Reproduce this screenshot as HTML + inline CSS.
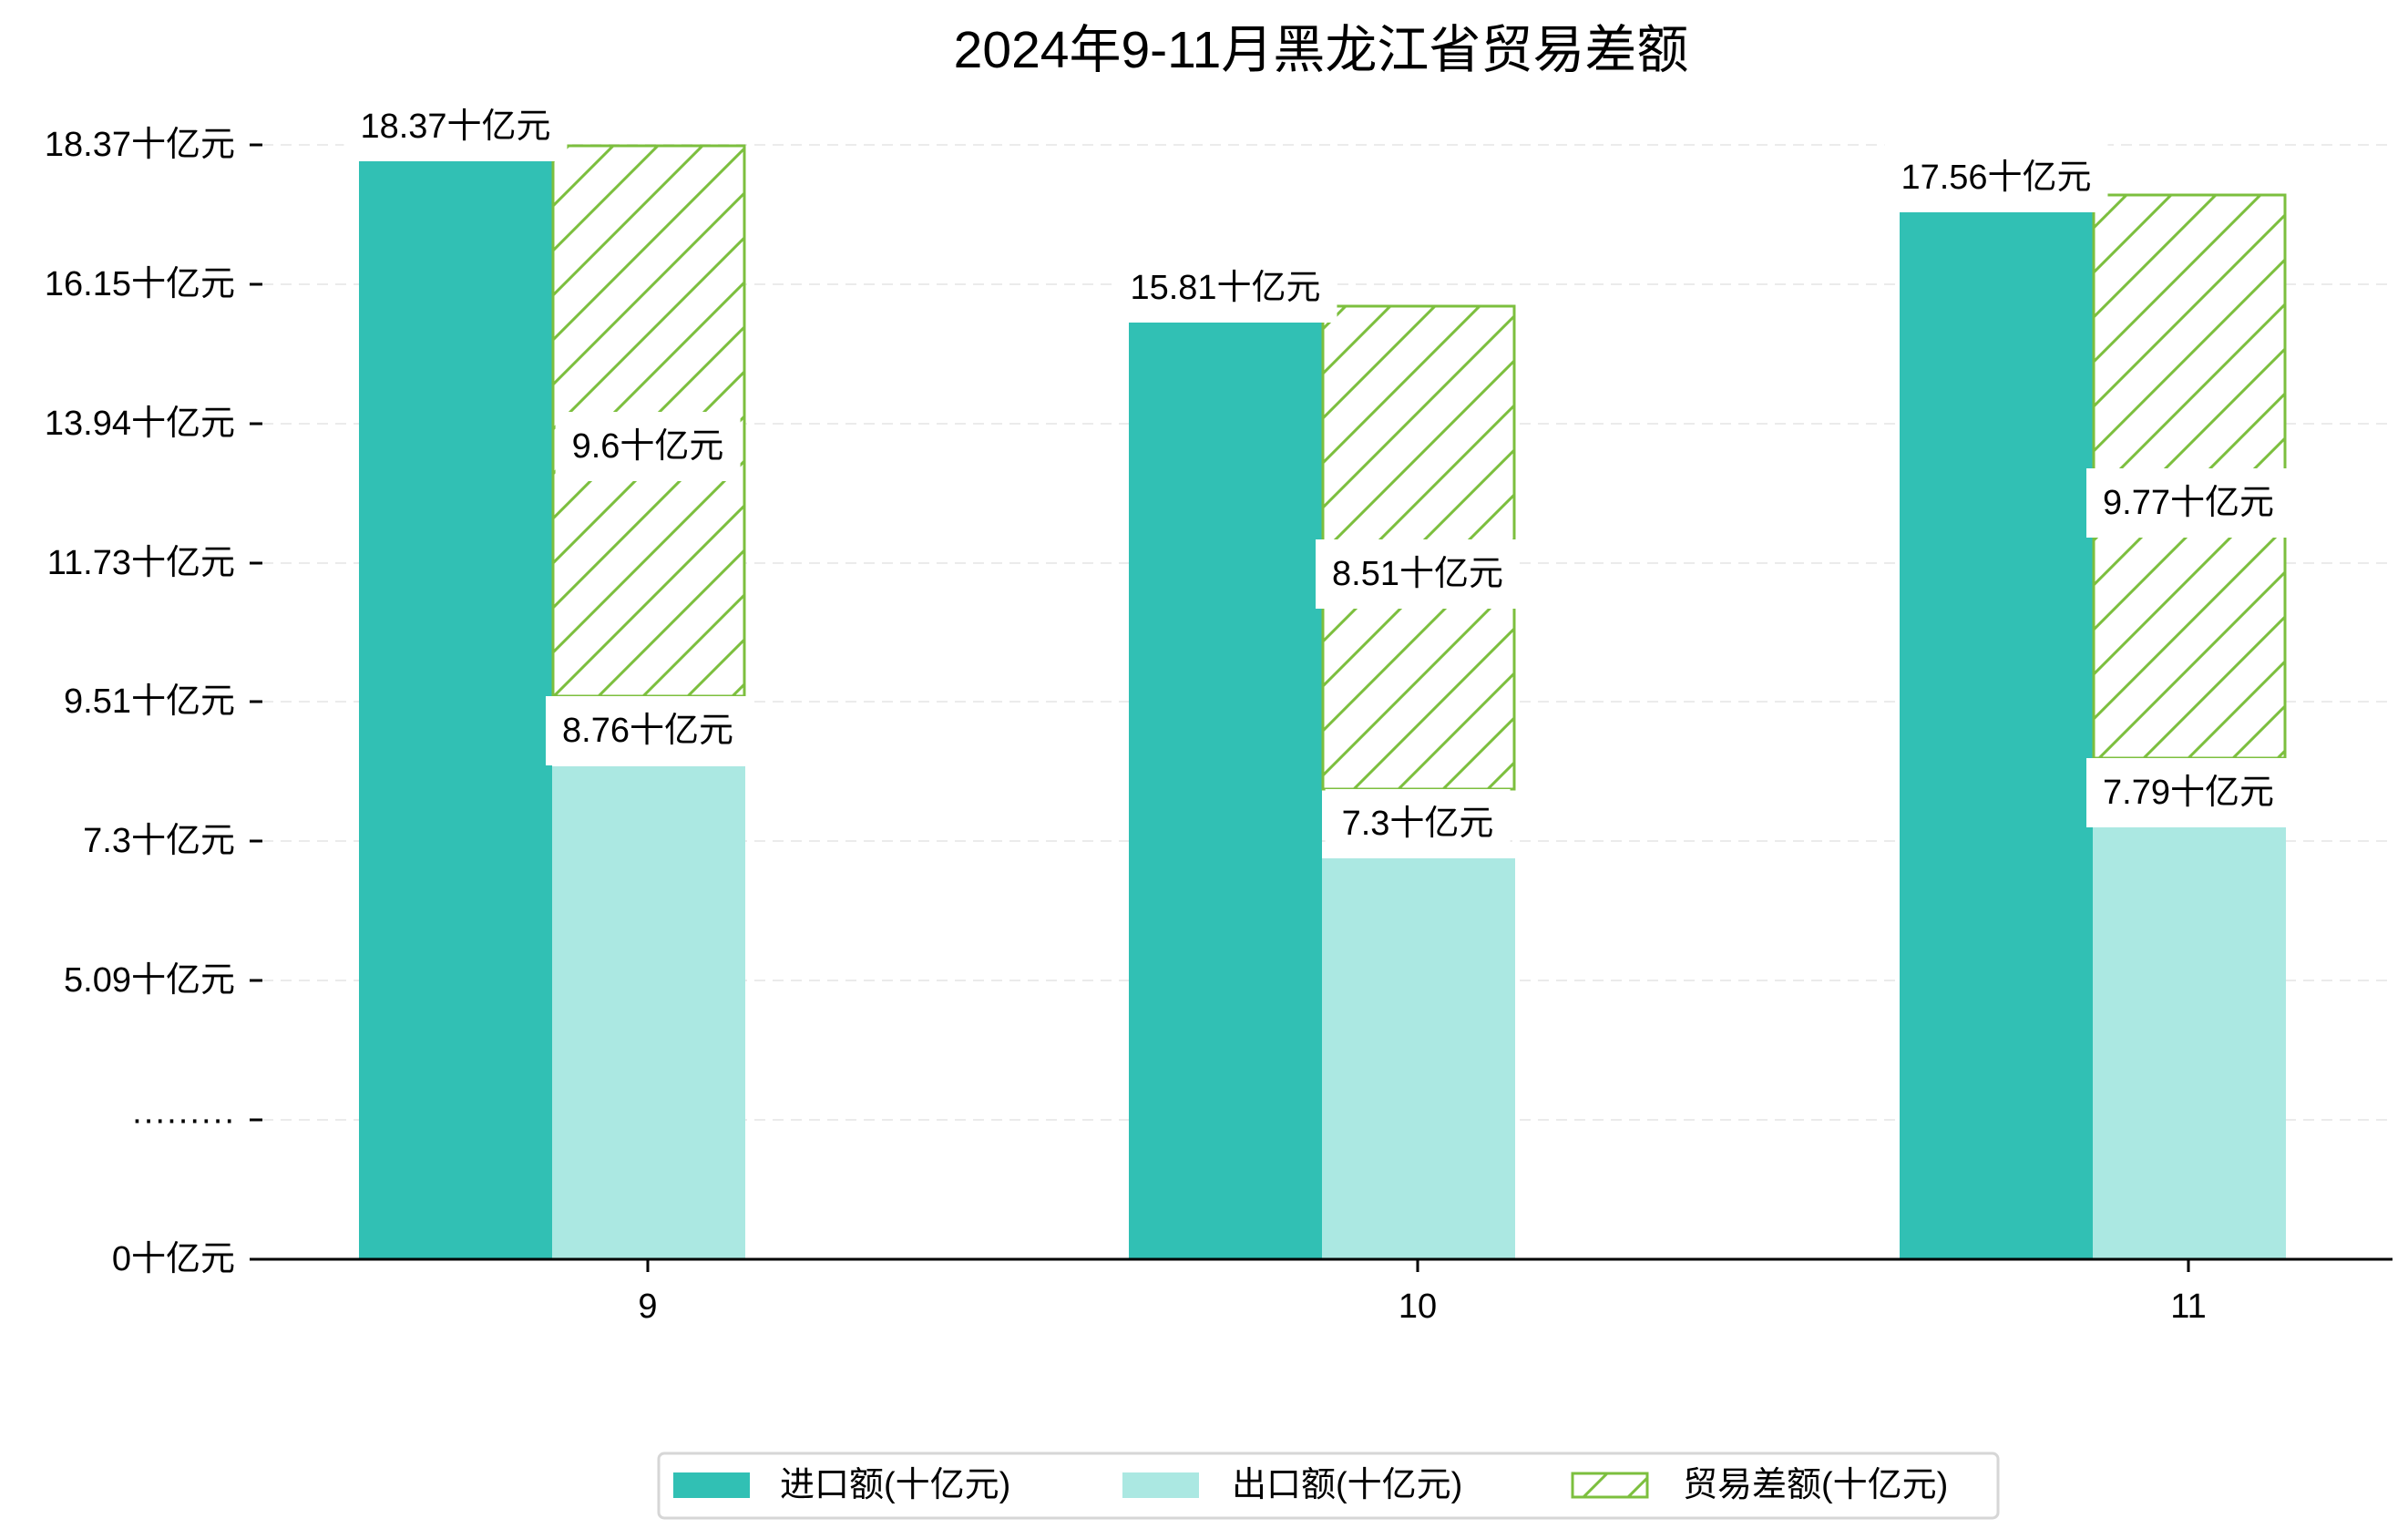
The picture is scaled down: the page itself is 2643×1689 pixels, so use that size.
<!DOCTYPE html>
<html><head><meta charset="utf-8">
<style>
html,body{margin:0;padding:0;background:#fff;}
#c{position:relative;width:2643px;height:1689px;overflow:hidden;font-family:"Liberation Sans","Noto Sans CJK SC",sans-serif;color:#000;}
.t{position:absolute;white-space:nowrap;}
.yl{position:absolute;right:2385px;font-size:38px;line-height:40px;transform:translateY(-50%);}
.lb{position:absolute;background:#fff;height:76px;line-height:76px;font-size:38px;padding:0 18px;transform:translateX(-50%);white-space:nowrap;}
</style></head><body><div id="c">
<svg width="2643" height="1689" style="position:absolute;left:0;top:0">
<defs>
<pattern id="h" patternUnits="userSpaceOnUse" width="49" height="49">
<rect width="49" height="49" fill="#fff"/>
<path d="M-5,5 L5,-5 M0,49 L49,0 M44,54 L54,44" stroke="#7cbf3e" stroke-width="3"/>
</pattern>
</defs>
<g stroke="#ebebeb" stroke-width="2" stroke-dasharray="12,8">
<line x1="288" x2="2626" y1="159" y2="159"/><line x1="288" x2="2626" y1="312" y2="312"/>
<line x1="288" x2="2626" y1="465" y2="465"/><line x1="288" x2="2626" y1="618" y2="618"/>
<line x1="288" x2="2626" y1="770" y2="770"/><line x1="288" x2="2626" y1="923" y2="923"/>
<line x1="288" x2="2626" y1="1076" y2="1076"/><line x1="288" x2="2626" y1="1229" y2="1229"/>
</g>
<g stroke="#000" stroke-width="3">
<line x1="274" x2="288" y1="159" y2="159"/><line x1="274" x2="288" y1="312" y2="312"/>
<line x1="274" x2="288" y1="465" y2="465"/><line x1="274" x2="288" y1="618" y2="618"/>
<line x1="274" x2="288" y1="770" y2="770"/><line x1="274" x2="288" y1="923" y2="923"/>
<line x1="274" x2="288" y1="1076" y2="1076"/><line x1="274" x2="288" y1="1229" y2="1229"/>
</g>
<rect x="394" y="177" width="212" height="1205" fill="#31c0b4"/>
<rect x="606" y="841" width="212" height="541" fill="#abe8e2"/>
<rect x="607" y="160" width="210" height="604" fill="url(#h)" stroke="#7cbf3e" stroke-width="3"/>
<rect x="1239" y="354" width="212" height="1028" fill="#31c0b4"/>
<rect x="1451" y="942" width="212" height="440" fill="#abe8e2"/>
<rect x="1452" y="336" width="210" height="530" fill="url(#h)" stroke="#7cbf3e" stroke-width="3"/>
<rect x="2085" y="233" width="212" height="1149" fill="#31c0b4"/>
<rect x="2297" y="908" width="212" height="474" fill="#abe8e2"/>
<rect x="2298" y="214" width="210" height="618" fill="url(#h)" stroke="#7cbf3e" stroke-width="3"/>
<line x1="274" x2="2626" y1="1382" y2="1382" stroke="#000" stroke-width="3"/>
<g stroke="#000" stroke-width="3">
<line x1="711" x2="711" y1="1382" y2="1396"/><line x1="1556" x2="1556" y1="1382" y2="1396"/><line x1="2402" x2="2402" y1="1382" y2="1396"/>
</g>
<rect x="723" y="1595" width="1470" height="71" rx="6" fill="#fff" stroke="#d6d6d6" stroke-width="3"/>
<rect x="739" y="1616" width="84" height="28" fill="#31c0b4"/>
<rect x="1232" y="1616" width="84" height="28" fill="#abe8e2"/>
<rect x="1726" y="1617" width="82" height="26" fill="url(#h)" stroke="#7cbf3e" stroke-width="3"/>
</svg>
<div class="t" style="left:0;width:2900px;top:22px;text-align:center;font-size:57px;line-height:66px;">2024年9-11月黑龙江省贸易差额</div>
<div class="yl" style="top:159px">18.37十亿元</div>
<div class="yl" style="top:312px">16.15十亿元</div>
<div class="yl" style="top:465px">13.94十亿元</div>
<div class="yl" style="top:618px">11.73十亿元</div>
<div class="yl" style="top:770px">9.51十亿元</div>
<div class="yl" style="top:923px">7.3十亿元</div>
<div class="yl" style="top:1076px">5.09十亿元</div>
<div class="yl" style="top:1229px">·········</div>
<div class="yl" style="top:1382px">0十亿元</div>
<div class="t" style="left:711px;top:1413px;font-size:38px;transform:translateX(-50%)">9</div>
<div class="t" style="left:1556px;top:1413px;font-size:38px;transform:translateX(-50%)">10</div>
<div class="t" style="left:2402px;top:1413px;font-size:38px;transform:translateX(-50%)">11</div>
<div class="lb" style="left:500px;top:101px">18.37十亿元</div>
<div class="lb" style="left:711px;top:452px">9.6十亿元</div>
<div class="lb" style="left:711px;top:764px">8.76十亿元</div>
<div class="lb" style="left:1345px;top:278px">15.81十亿元</div>
<div class="lb" style="left:1556px;top:592px">8.51十亿元</div>
<div class="lb" style="left:1556px;top:866px">7.3十亿元</div>
<div class="lb" style="left:2191px;top:157px">17.56十亿元</div>
<div class="lb" style="left:2402px;top:514px">9.77十亿元</div>
<div class="lb" style="left:2402px;top:832px">7.79十亿元</div>
<div class="t" style="left:856px;top:1608px;font-size:38px;line-height:44px">进口额(十亿元)</div>
<div class="t" style="left:1352px;top:1608px;font-size:38px;line-height:44px">出口额(十亿元)</div>
<div class="t" style="left:1847px;top:1608px;font-size:38px;line-height:44px">贸易差额(十亿元)</div>
</div></body></html>
